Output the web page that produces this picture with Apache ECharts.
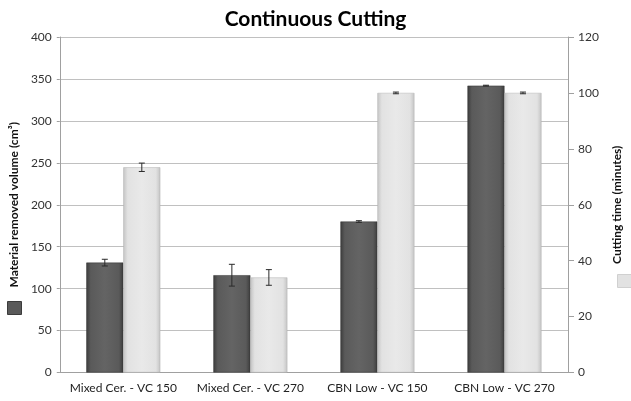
<!DOCTYPE html>
<html><head><meta charset="utf-8">
<script src="https://cdn.jsdelivr.net/npm/echarts@6/dist/echarts.min.js"></script>
<style>html,body{margin:0;padding:0;background:#fff}#c{width:631px;height:401px}</style>
</head><body><div id="c"></div>
<script>
const categories = ['Mixed Cer. - VC 150', 'Mixed Cer. - VC 270', 'CBN Low - VC 150', 'CBN Low - VC 270'];
const volumeValues = [131, 116, 180, 342];
const volumeErrors = [4, 13, 1, 0.5];
const timeValues = [73.4, 34, 100, 100];
const timeErrors = [1.5, 2.8, 0.3, 0.3];
const leftTicks = { min: 0, max: 400, interval: 50 };
const rightTicks = { min: 0, max: 120, interval: 20 };

const FONT = 'Lato';
const BAR_W = 37;
const darkGrad = new echarts.graphic.LinearGradient(0, 0, 1, 0, [
  { offset: 0, color: '#3c3c3c' }, { offset: 0.12, color: '#5a5a5a' },
  { offset: 0.5, color: '#646464' }, { offset: 0.88, color: '#5a5a5a' }, { offset: 1, color: '#3c3c3c' }]);
const lightGrad = new echarts.graphic.LinearGradient(0, 0, 1, 0, [
  { offset: 0, color: '#c4c4c4' }, { offset: 0.12, color: '#e2e2e2' },
  { offset: 0.5, color: '#e9e9e9' }, { offset: 0.88, color: '#e2e2e2' }, { offset: 1, color: '#c4c4c4' }]);

function errSeries(vals, errs, axisIdx, offset) {
  return {
    type: 'custom', yAxisIndex: axisIdx, z: 10, silent: true,
    data: vals.map((v, i) => [i, v, errs[i]]),
    renderItem: function (params, api) {
      const i = api.value(0), v = api.value(1), e = api.value(2);
      const top = api.coord([i, v + e]);
      const bot = api.coord([i, v - e]);
      const x = top[0] + offset;
      const cw = 3;
      const st = { stroke: '#2a2a2a', lineWidth: 1 };
      return { type: 'group', children: [
        { type: 'line', shape: { x1: x, y1: top[1], x2: x, y2: bot[1] }, style: st },
        { type: 'line', shape: { x1: x - cw, y1: top[1], x2: x + cw, y2: top[1] }, style: st },
        { type: 'line', shape: { x1: x - cw, y1: bot[1], x2: x + cw, y2: bot[1] }, style: st }
      ]};
    }
  };
}

const chart = echarts.init(document.getElementById('c'), null, { renderer: 'canvas' });
chart.setOption({
  animation: false,
  backgroundColor: '#fff',
  textStyle: { fontFamily: FONT },
  title: { text: 'Continuous Cutting', left: 'center', top: 4,
    textStyle: { fontFamily: FONT, fontWeight: 'bold', fontSize: 21, color: '#000' } },
  grid: { left: 58, right: 50, top: 37, bottom: 28.5 },
  legend: [
    { data: [{ name: 'Material removed volume (cm³)', icon: 'rect', itemStyle: { color: '#5a5a5a', borderColor: '#3c3c3c', borderWidth: 1 } }],
      left: 7, top: 301, itemWidth: 14, itemHeight: 13, formatter: () => '', selectedMode: false, orient: 'vertical', padding: 0 },
    { data: [{ name: 'Cutting time (minutes)', icon: 'rect', itemStyle: { color: '#e2e2e2', borderColor: '#d0d0d0', borderWidth: 1 } }],
      left: 617, top: 274, itemWidth: 14, itemHeight: 13, formatter: () => '', selectedMode: false, orient: 'vertical', padding: 0 }
  ],
  xAxis: {
    type: 'category', data: categories,
    axisLine: { lineStyle: { color: '#a0a0a0' } },
    axisTick: { show: false },
    axisLabel: { color: '#222', fontSize: 12, fontFamily: FONT, margin: 10, interval: 0 }
  },
  yAxis: [
    { type: 'value', min: leftTicks.min, max: leftTicks.max, interval: leftTicks.interval,
      name: 'Material removed volume (cm³)', nameLocation: 'middle', nameGap: 38, nameRotate: 90,
      nameTextStyle: { fontFamily: FONT, fontWeight: 'bold', fontSize: 12, color: '#111' },
      axisLine: { show: true, lineStyle: { color: '#a0a0a0' } },
      axisTick: { show: true, length: 3, lineStyle: { color: '#a0a0a0' } },
      axisLabel: { color: '#333', fontSize: 12, fontFamily: FONT, margin: 8 },
      splitLine: { lineStyle: { color: '#c0c0c0' } } },
    { type: 'value', min: rightTicks.min, max: rightTicks.max, interval: rightTicks.interval, position: 'right',
      name: 'Cutting time (minutes)', nameLocation: 'middle', nameGap: 43, nameRotate: 90,
      nameTextStyle: { fontFamily: FONT, fontWeight: 'bold', fontSize: 12, color: '#111' },
      axisLine: { show: true, lineStyle: { color: '#a0a0a0' } },
      axisTick: { show: true, length: 6, lineStyle: { color: '#a0a0a0' } },
      axisLabel: { color: '#333', fontSize: 12, fontFamily: FONT, margin: 10 },
      splitLine: { show: false } }
  ],
  series: [
    { name: 'Material removed volume (cm³)', type: 'bar', yAxisIndex: 0, data: volumeValues,
      barWidth: BAR_W, barGap: '0%',
      itemStyle: { color: darkGrad, borderColor: '#333', borderWidth: 0.5 } },
    { name: 'Cutting time (minutes)', type: 'bar', yAxisIndex: 1, data: timeValues,
      barWidth: BAR_W, barGap: '0%',
      itemStyle: { color: lightGrad, borderColor: '#b0b0b0', borderWidth: 0.5 } },
    errSeries(volumeValues, volumeErrors, 0, -BAR_W / 2),
    errSeries(timeValues, timeErrors, 1, BAR_W / 2)
  ]
});
</script></body></html>
